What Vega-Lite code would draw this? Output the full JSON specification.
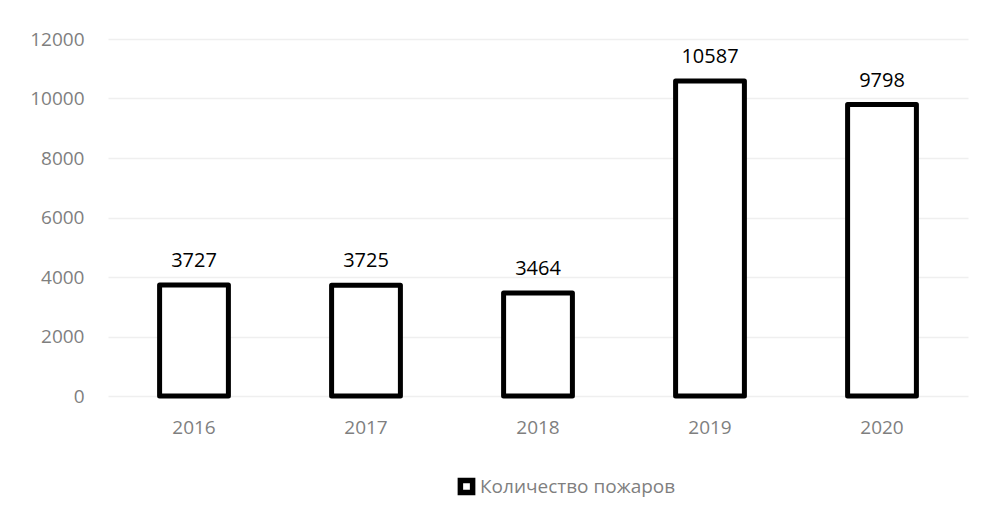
{
  "$schema": "https://vega.github.io/schema/vega-lite/v6.json",
  "width": 860,
  "height": 357,
  "autosize": "none",
  "padding": {"left": 108, "top": 39, "right": 17, "bottom": 114},
  "background": "white",
  "config": {
    "view": {"stroke": null},
    "font": "Open Sans"
  },
  "data": {
    "values": [
      {"year": "2016", "value": 3727, "series": "Количество пожаров"},
      {"year": "2017", "value": 3725, "series": "Количество пожаров"},
      {"year": "2018", "value": 3464, "series": "Количество пожаров"},
      {"year": "2019", "value": 10587, "series": "Количество пожаров"},
      {"year": "2020", "value": 9798, "series": "Количество пожаров"}
    ]
  },
  "encoding": {
    "x": {
      "field": "year",
      "type": "nominal",
      "scale": {"paddingInner": 0.6, "paddingOuter": 0.3},
      "axis": {
        "title": null,
        "labelAngle": 0,
        "labelColor": "#7f7f7f",
        "labelFont": "Open Sans",
        "labelFontSize": 19,
        "labelPadding": 22,
        "domain": false,
        "ticks": false,
        "grid": false
      }
    },
    "y": {
      "field": "value",
      "type": "quantitative",
      "scale": {"domain": [0, 12000], "nice": false},
      "axis": {
        "title": null,
        "values": [0, 2000, 4000, 6000, 8000, 10000, 12000],
        "format": "d",
        "labelColor": "#7f7f7f",
        "labelFont": "Open Sans",
        "labelFontSize": 19,
        "labelPadding": 24,
        "domain": false,
        "ticks": false,
        "grid": true,
        "gridColor": "#efefef",
        "gridWidth": 1.5
      }
    }
  },
  "layer": [
    {
      "mark": {"type": "bar", "fill": "white", "strokeWidth": 5, "strokeJoin": "round"},
      "encoding": {
        "stroke": {
          "field": "series",
          "type": "nominal",
          "scale": {"range": ["#000000"]},
          "legend": {
            "title": null,
            "orient": "none",
            "legendX": 349,
            "legendY": 438,
            "symbolType": "square",
            "symbolFillColor": "white",
            "symbolStrokeWidth": 5.5,
            "symbolSize": 150,
            "labelFont": "Open Sans",
            "labelFontSize": 19,
            "labelColor": "#7f7f7f",
            "labelOffset": 4,
            "labelLimit": 400
          }
        }
      }
    },
    {
      "mark": {"type": "text", "baseline": "alphabetic", "dy": -18, "fontSize": 20, "font": "Open Sans", "color": "#000000"},
      "encoding": {
        "text": {"field": "value", "type": "quantitative", "format": "d"}
      }
    }
  ]
}
